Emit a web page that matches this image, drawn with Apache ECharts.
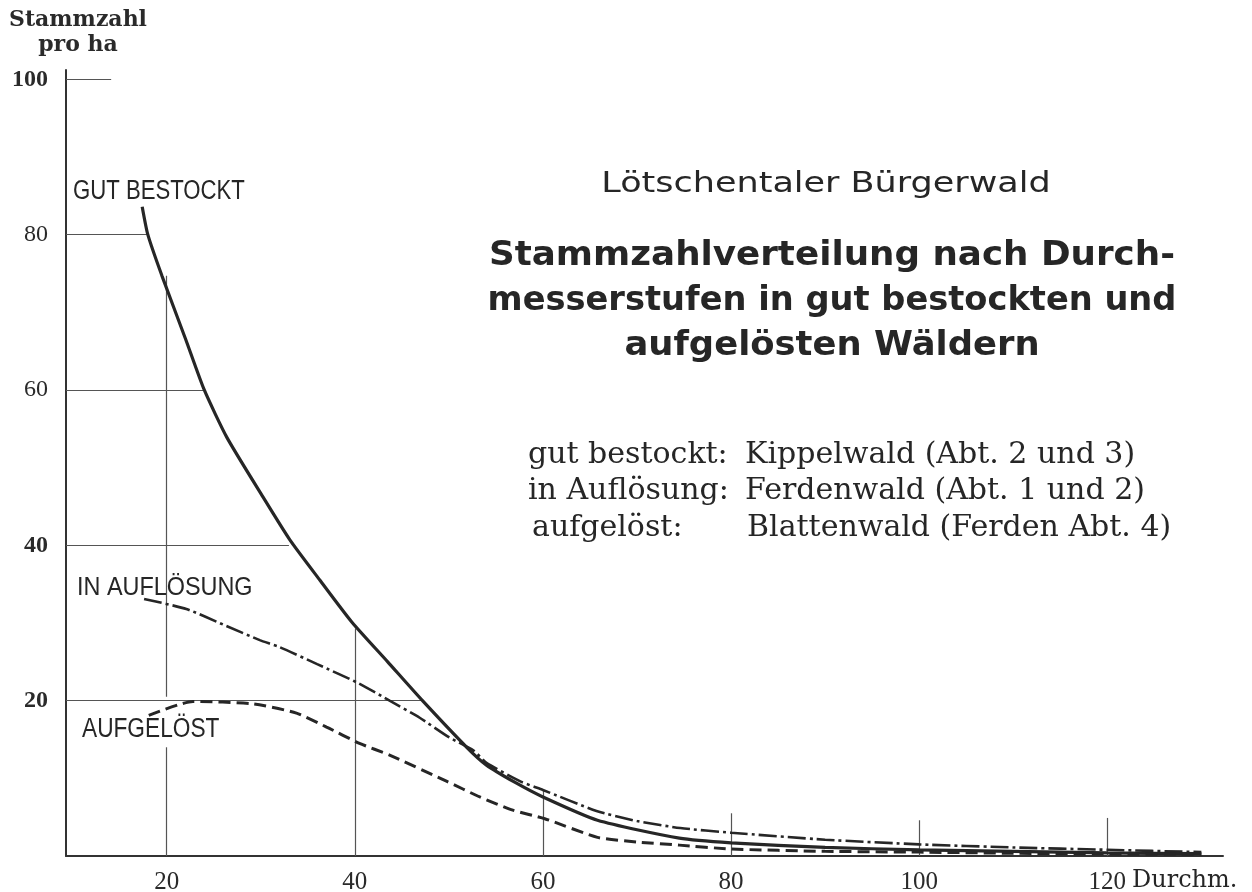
<!DOCTYPE html>
<html>
<head>
<meta charset="utf-8">
<script src="https://cdn.jsdelivr.net/npm/echarts@6/dist/echarts.min.js"></script>
<style>
html,body{margin:0;padding:0;background:#fff;}
#chart{width:1252px;height:892px;}
</style>
</head>
<body>
<div id="chart"></div>
<script>
// ---- data ----
const xTickValues = [20, 40, 60, 80, 100, 120];
const yTickValues = [20, 40, 60, 80, 100];

const gutX = [17.4, 18.0, 19.5, 22.0, 24.0, 26.4, 30.1, 33.1, 36.3, 39.7, 43.5, 47.2, 51.9, 54.0, 57.0, 60.0, 65.8, 74.5, 80, 90, 100, 110, 120, 130];
const gutY = [83.6, 80.0, 74.7, 66.6, 60.0, 53.9, 46.5, 40.7, 35.5, 30.1, 25.0, 20.0, 14.0, 11.7, 9.5, 7.6, 4.6, 2.3, 1.7, 1.1, 0.8, 0.6, 0.4, 0.3];

const aufloesungX = [17.6, 22.1, 26.0, 29.9, 32.0, 36.0, 40.3, 43.7, 46.9, 50.0, 52.6, 54.0, 57.6, 60.0, 65.7, 70.0, 74.6, 80, 90, 100, 110, 120, 130];
const aufloesungY = [33.1, 31.8, 29.8, 27.8, 26.9, 24.7, 22.3, 20.0, 17.8, 15.3, 13.6, 12.0, 9.6, 8.5, 5.8, 4.5, 3.6, 3.0, 2.1, 1.5, 1.1, 0.8, 0.5];

const aufgeloestX = [18.1, 22.8, 29.1, 33.8, 37.0, 40.5, 43.7, 49.8, 53.3, 56.8, 60.2, 65.8, 70.0, 74.5, 80, 90, 100, 110, 120, 130];
const aufgeloestY = [18.1, 19.9, 19.6, 18.4, 16.6, 14.5, 13.0, 9.6, 7.6, 5.9, 4.8, 2.4, 1.8, 1.4, 0.9, 0.6, 0.5, 0.35, 0.25, 0.2];

// partial grid lines of the drawing (value coordinates)
const hGridY   = [100, 80, 60, 40, 20];
const hGridEnd = [14.1, 18.0, 24.0, 33.0, 47.2];
const vGridX      = [20, 20, 40, 60, 80, 100, 120];
const vGridTop    = [74.7, 14.0, 29.3, 8.5, 5.5, 4.6, 4.9];
const vGridBottom = [20.5, 0, 0, 0, 0, 0, 0];

const X_MIN = 9.3, X_MAX = 132.3, Y_MIN = 0, Y_MAX = 101.2;

const ink = '#262626';
const pairs = (xs, ys) => xs.map((x, i) => [x, ys[i]]);

const gridSegments = [];
hGridY.forEach((y, i) => gridSegments.push([{ coord: [X_MIN, y] }, { coord: [hGridEnd[i], y] }]));
vGridX.forEach((x, i) => gridSegments.push([{ coord: [x, vGridBottom[i]] }, { coord: [x, vGridTop[i]] }]));

const chart = echarts.init(document.getElementById('chart'), null, { renderer: 'canvas' });

function txt(text, x, y, size, family, weight, scaleX, align) {
  return {
    type: 'text', x: x, y: y, scaleX: scaleX || 1, z: 10,
    style: {
      text: text, fill: ink, fontSize: size, fontFamily: family,
      fontWeight: weight || 'normal', align: align || 'left', verticalAlign: 'middle'
    }
  };
}

const option = {
  backgroundColor: '#ffffff',
  animation: false,
  grid: { left: 66, right: 29, top: 70, bottom: 36, containLabel: false, outerBoundsMode: 'none' },
  xAxis: {
    type: 'value', min: X_MIN, max: X_MAX,
    axisLine: { show: true, lineStyle: { color: '#333', width: 2 } },
    axisTick: { show: false },
    splitLine: { show: false },
    axisLabel: {
      customValues: xTickValues, margin: 14,
      color: '#2a2a2a', fontSize: 25, fontFamily: '"Liberation Serif", serif'
    }
  },
  yAxis: {
    type: 'value', min: Y_MIN, max: Y_MAX,
    name: 'Stammzahl\npro ha', nameLocation: 'end', nameGap: 12,
    nameTextStyle: {
      color: '#2a2a2a', fontSize: 22, fontWeight: 'bold',
      fontFamily: '"DejaVu Serif", serif', lineHeight: 25, align: 'center', verticalAlign: 'bottom',
      padding: [0, 0, 0, 24]
    },
    axisLine: { show: true, lineStyle: { color: '#333', width: 2 } },
    axisTick: { show: false },
    splitLine: { show: false },
    axisLabel: {
      customValues: yTickValues, margin: 18,
      formatter: v => (v === 100 || v === 40 || v === 20) ? '{b|' + v + '}' : '{n|' + v + '}',
      rich: {
        b: { fontSize: 24, fontWeight: 'bold', fontFamily: '"Liberation Serif", serif', color: '#2a2a2a' },
        n: { fontSize: 24, fontFamily: '"Liberation Serif", serif', color: '#2a2a2a' }
      }
    }
  },
  series: [
    {
      name: 'gut bestockt', type: 'line', data: pairs(gutX, gutY),
      showSymbol: false, smooth: 0.2,
      lineStyle: { color: ink, width: 3.2, type: 'solid' },
      z: 5,
      markLine: {
        silent: true, symbol: ['none', 'none'], animation: false,
        label: { show: false },
        lineStyle: { color: '#555', width: 1.2, type: 'solid' },
        emphasis: { disabled: true },
        data: gridSegments
      }
    },
    {
      name: 'in Auflösung', type: 'line', data: pairs(aufloesungX, aufloesungY),
      showSymbol: false, smooth: 0.2,
      lineStyle: { color: ink, width: 2.6, type: [18, 4, 3, 4] },
      z: 5
    },
    {
      name: 'aufgelöst', type: 'line', data: pairs(aufgeloestX, aufgeloestY),
      showSymbol: false, smooth: 0.2,
      lineStyle: { color: ink, width: 3, type: [12, 6] },
      z: 5
    }
  ],
  graphic: [
    // x-axis unit
    txt('Durchm.', 1132, 881, 24, '"DejaVu Serif", serif', 'normal', 1, 'left'),
    // hand-lettered curve labels
    txt('GUT BESTOCKT', 73, 192, 27, '"Liberation Sans", sans-serif', 'normal', 0.82, 'left'),
    txt('IN AUFLÖSUNG', 77, 588, 26, '"Liberation Sans", sans-serif', 'normal', 0.9, 'left'),
    txt('AUFGELÖST', 82, 730, 27, '"Liberation Sans", sans-serif', 'normal', 0.84, 'left'),
    // titles
    txt('Lötschentaler Bürgerwald', 826, 185, 28, '"DejaVu Sans", sans-serif', 'normal', 1.25, 'center'),
    txt('Stammzahlverteilung nach Durch-', 832, 256, 34, '"DejaVu Sans", sans-serif', 'bold', 1.05, 'center'),
    txt('messerstufen in gut bestockten und', 832, 301, 34, '"DejaVu Sans", sans-serif', 'bold', 0.99, 'center'),
    txt('aufgelösten Wäldern', 832, 346, 34, '"DejaVu Sans", sans-serif', 'bold', 1.04, 'center'),
    // description block
    txt('gut bestockt:', 528, 455, 30, '"DejaVu Serif", serif', 'normal', 1, 'left'),
    txt('Kippelwald (Abt. 2 und 3)', 745, 455, 30, '"DejaVu Serif", serif', 'normal', 1, 'left'),
    txt('in Auflösung:', 528, 491, 30, '"DejaVu Serif", serif', 'normal', 1, 'left'),
    txt('Ferdenwald (Abt. 1 und 2)', 745, 491, 30, '"DejaVu Serif", serif', 'normal', 1, 'left'),
    txt('aufgelöst:', 532, 528, 30, '"DejaVu Serif", serif', 'normal', 1, 'left'),
    txt('Blattenwald (Ferden Abt. 4)', 747, 528, 30, '"DejaVu Serif", serif', 'normal', 1, 'left')
  ]
};
chart.setOption(option);
</script>
</body>
</html>
